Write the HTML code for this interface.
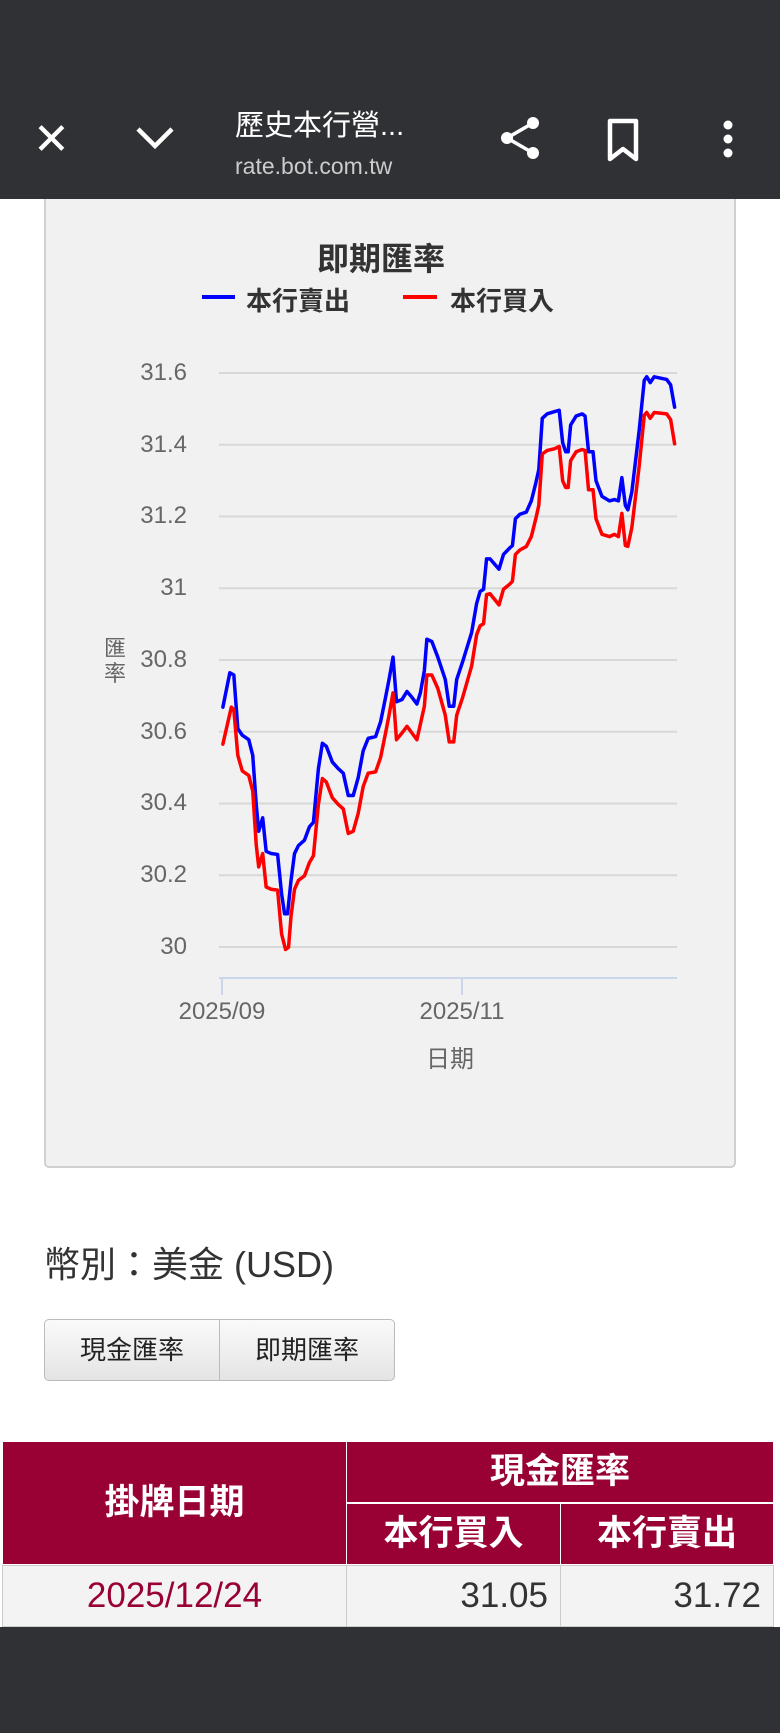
<!DOCTYPE html>
<html><head><meta charset="utf-8"><style>
*{margin:0;padding:0;box-sizing:border-box}
body{width:780px;height:1733px;background:#fff;position:relative;overflow:hidden;font-family:"Liberation Sans","Noto Sans CJK TC",sans-serif}
.abs{position:absolute}
.top{left:0;top:0;width:780px;height:199px;background:#303134;z-index:2}
.bot{left:0;top:1627px;width:780px;height:106px;background:#303134}
.panel{left:44px;top:180px;width:692px;height:988px;background:#f1f1f1;border:2px solid #d0d0d0;border-radius:5px}
.tick{color:#666;font-size:24px;text-align:right;width:90px;left:97px}
.btn{top:1319px;height:62px;border:1px solid #bbb;background:linear-gradient(#fafafa,#e4e4e4);font-size:26px;color:#222;text-align:center;line-height:60px;font-family:"Liberation Sans","Noto Sans CJK TC",sans-serif}
.th{background:#990033;color:#fff;font-weight:bold;font-size:35px;text-align:center;border:1px solid #fff}
.td{background:#f3f3f3;font-size:35px;color:#333;border:1px solid #ccc}
</style></head><body>
<div class="abs panel"></div>
<div class="abs top"></div>
<div class="abs" style="left:33px;top:120px;color:#fff;font-size:44px;line-height:40px;z-index:3">✕</div>
<svg class="abs" style="left:133px;top:122px;z-index:3" width="44" height="30"><polyline points="5,7 22,24 39,7" fill="none" stroke="#fff" stroke-width="4.5"/></svg>
<div class="abs" style="left:235px;top:102px;color:#fff;font-size:29px;z-index:3">歷史本行營...</div>
<div class="abs" style="left:235px;top:153px;color:#ccc;font-size:23px;z-index:3">rate.bot.com.tw</div>
<svg class="abs" style="left:496px;top:114px;z-index:3" width="50" height="50"><circle cx="37" cy="9" r="6" fill="#fff"/><circle cx="11" cy="24" r="6" fill="#fff"/><circle cx="37" cy="39" r="6" fill="#fff"/><path d="M37 9 L11 24 L37 39" stroke="#fff" stroke-width="3.5" fill="none"/></svg>
<svg class="abs" style="left:606px;top:118px;z-index:3" width="36" height="46"><path d="M4 3 H30 V41 L17 31 L4 41 Z" fill="none" stroke="#fff" stroke-width="4.5" stroke-linejoin="round"/></svg>
<svg class="abs" style="left:718px;top:118px;z-index:3" width="20" height="46"><circle cx="10" cy="7" r="4.5" fill="#fff"/><circle cx="10" cy="21" r="4.5" fill="#fff"/><circle cx="10" cy="35" r="4.5" fill="#fff"/></svg>

<div class="abs" style="left:0;width:762px;top:234px;text-align:center;font-size:32px;font-weight:bold;color:#333">即期匯率</div>
<div class="abs" style="left:202px;top:295px;width:33px;height:4px;background:#0000ff"></div>
<div class="abs" style="left:246px;top:281px;font-size:26px;font-weight:bold;color:#333">本行賣出</div>
<div class="abs" style="left:403px;top:295px;width:34px;height:4px;background:#ff0000"></div>
<div class="abs" style="left:450px;top:281px;font-size:26px;font-weight:bold;color:#333">本行買入</div>

<svg class="abs" style="left:0;top:0" width="780" height="1733">
<g stroke="#d8d8d8" stroke-width="2">
<line x1="219" x2="677" y1="373" y2="373"/><line x1="219" x2="677" y1="444.7" y2="444.7"/><line x1="219" x2="677" y1="516.5" y2="516.5"/><line x1="219" x2="677" y1="588.2" y2="588.2"/><line x1="219" x2="677" y1="660" y2="660"/><line x1="219" x2="677" y1="731.7" y2="731.7"/><line x1="219" x2="677" y1="803.5" y2="803.5"/><line x1="219" x2="677" y1="875.2" y2="875.2"/><line x1="219" x2="677" y1="947" y2="947"/>
</g>
<g stroke="#ccd6eb" stroke-width="2"><line x1="219" x2="677" y1="978" y2="978"/><line x1="222" x2="222" y1="978" y2="995"/><line x1="462" x2="462" y1="978" y2="995"/></g>
<g transform="translate(0,300) scale(0.4975,0.4464)" fill="none" stroke-linejoin="round" stroke-linecap="round">
<polyline vector-effect="non-scaling-stroke" stroke="#0000ff" stroke-width="3.5" points="448,912 462,835 470,840 478,960 487,975 500,985 508,1020 515,1130 520,1190 528,1160 535,1235 545,1240 558,1242 566,1330 572,1375 578,1375 585,1300 592,1240 600,1222 612,1210 622,1180 630,1170 640,1050 648,993 656,1000 668,1035 680,1050 690,1060 700,1110 710,1110 720,1070 730,1010 740,982 755,978 765,945 775,890 782,850 790,800 797,900 808,895 818,877 828,890 838,905 845,880 853,830 858,760 868,765 880,800 895,850 903,910 912,910 918,850 930,810 948,745 958,680 965,653 972,648 978,580 985,580 1003,603 1012,570 1025,555 1030,550 1036,490 1045,480 1058,475 1068,450 1077,410 1083,380 1090,265 1100,255 1115,250 1124,247 1131,320 1137,340 1142,340 1147,280 1158,260 1170,255 1176,260 1183,340 1192,340 1198,405 1210,440 1225,450 1235,447 1243,450 1250,398 1257,460 1262,470 1270,430 1285,290 1295,180 1300,172 1307,185 1315,172 1340,178 1348,190 1356,240"/>
<polyline vector-effect="non-scaling-stroke" stroke="#ff0000" stroke-width="3.5" points="448,995 465,912 470,918 478,1020 487,1055 500,1065 508,1100 515,1220 520,1270 528,1240 535,1315 545,1320 558,1322 566,1420 574,1455 580,1450 585,1380 592,1320 600,1300 612,1290 622,1260 630,1245 640,1130 648,1072 656,1080 668,1115 680,1130 690,1140 700,1195 710,1190 720,1150 730,1090 740,1060 755,1057 765,1025 775,970 782,930 790,880 797,985 808,970 818,955 828,970 838,985 845,950 853,910 858,840 868,840 880,870 895,930 903,990 912,990 918,930 930,890 948,820 958,750 965,730 972,725 978,660 985,658 1003,683 1012,648 1025,636 1030,630 1036,570 1045,560 1058,552 1068,530 1077,490 1083,460 1090,345 1100,337 1115,333 1124,328 1131,405 1137,420 1142,420 1147,360 1158,340 1170,335 1176,337 1183,425 1192,425 1198,490 1210,525 1225,530 1235,525 1243,530 1250,478 1257,550 1262,552 1270,510 1285,370 1295,258 1300,252 1307,265 1315,252 1340,255 1348,268 1356,322"/>
</g>
</svg>
<div class="abs tick" style="top:359px">31.6</div>
<div class="abs tick" style="top:431px">31.4</div>
<div class="abs tick" style="top:502px">31.2</div>
<div class="abs tick" style="top:574px">31</div>
<div class="abs tick" style="top:646px">30.8</div>
<div class="abs tick" style="top:718px">30.6</div>
<div class="abs tick" style="top:789px">30.4</div>
<div class="abs tick" style="top:861px">30.2</div>
<div class="abs tick" style="top:933px">30</div>
<div class="abs" style="left:104px;top:636px;width:24px;font-size:22px;line-height:25px;color:#666">匯<br>率</div>
<div class="abs" style="left:157px;top:998px;width:130px;text-align:center;font-size:24px;color:#666">2025/09</div>
<div class="abs" style="left:397px;top:998px;width:130px;text-align:center;font-size:24px;color:#666">2025/11</div>
<div class="abs" style="left:405px;top:1039px;width:90px;text-align:center;font-size:24px;color:#666">日期</div>

<div class="abs" style="left:44px;top:1236px;font-size:36px;color:#333">幣別：美金 (USD)</div>
<div class="abs btn" style="left:44px;width:176px;border-radius:5px 0 0 5px">現金匯率</div>
<div class="abs btn" style="left:219px;width:176px;border-radius:0 5px 5px 0">即期匯率</div>

<div class="abs th" style="left:2px;top:1441px;width:345px;height:124px;line-height:122px">掛牌日期</div>
<div class="abs th" style="left:346px;top:1441px;width:428px;height:62px;line-height:60px">現金匯率</div>
<div class="abs th" style="left:346px;top:1503px;width:215px;height:62px;line-height:60px">本行買入</div>
<div class="abs th" style="left:560px;top:1503px;width:214px;height:62px;line-height:60px">本行賣出</div>
<div class="abs td" style="left:2px;top:1565px;width:345px;height:62px;line-height:60px;text-align:center;color:#990033">2025/12/24</div>
<div class="abs td" style="left:346px;top:1565px;width:215px;height:62px;line-height:60px;text-align:right;padding-right:12px">31.05</div>
<div class="abs td" style="left:560px;top:1565px;width:214px;height:62px;line-height:60px;text-align:right;padding-right:12px">31.72</div>
<div class="abs bot"></div>
</body></html>
